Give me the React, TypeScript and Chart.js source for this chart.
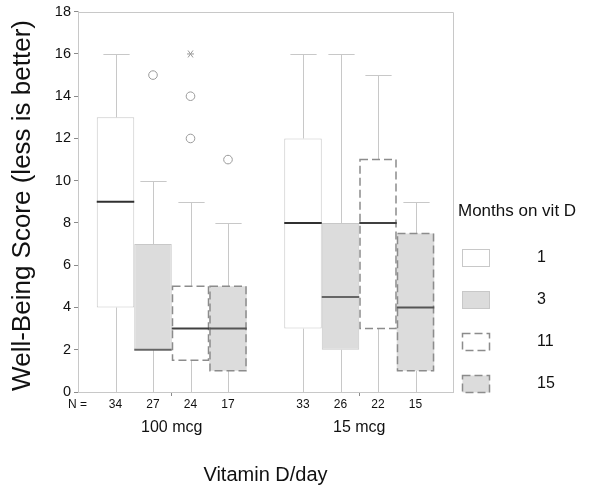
import React, { useEffect, useRef } from 'react';
import { Chart, registerables } from 'chart.js';

Chart.register(...registerables);

// ---- data ----
const groupLabels = ['100 mcg', '15 mcg'];
const monthLabels = ['1', '3', '11', '15'];
// indexed [month][group]
const whiskerLow = [[0, 0], [0, 0], [0, 0], [0, 0]];
const q1Values = [[4, 3], [2, 2], [1.5, 3], [1, 1]];
const medianValues = [[9, 8], [2, 4.5], [3, 8], [3, 4]];
const q3Values = [[13, 12], [7, 8], [5, 11], [5, 7.5]];
const whiskerHigh = [[16, 16], [10, 16], [9, 15], [8, 9]];
const outlierCircles = [[[], []], [[15], []], [[14, 12], []], [[11], []]];
const extremeStars = [[[], []], [[], []], [[16], []], [[], []]];
const sampleSizes = [[34, 33], [27, 26], [24, 22], [17, 15]];
const yTicksMin = 0;
const yTicksMax = 18;
const yTickStep = 2;

const FONT = '"Liberation Sans", Arial, sans-serif';
const fills = ['#ffffff', '#dcdcdc', '#ffffff', '#dcdcdc'];
const dashed = [false, false, true, true];
const medianColors = ['#303030', '#666666', '#404040', '#555555'];
const lightLine = '#c8c8c8';
const dashColor = '#8c8c8c';

const boxPlugin = {
  id: 'boxExtras',
  beforeDatasetsDraw(chart: any) {
    const { ctx, chartArea: a } = chart;
    const y = chart.scales.y;
    ctx.save();
    // frame (top & right)
    ctx.strokeStyle = lightLine;
    ctx.lineWidth = 1;
    ctx.beginPath();
    ctx.moveTo(a.left, Math.round(a.top) + 0.5);
    ctx.lineTo(Math.round(a.right) + 0.5, Math.round(a.top) + 0.5);
    ctx.lineTo(Math.round(a.right) + 0.5, a.bottom);
    ctx.stroke();
    // whiskers
    chart.data.datasets.forEach((_ds: any, di: number) => {
      const meta = chart.getDatasetMeta(di);
      meta.data.forEach((bar: any, gi: number) => {
        const { x, width } = bar.getProps(['x', 'width'], true);
        const cx = Math.round(x) + 0.5;
        const capHalf = width * 0.35;
        const pairs = [
          [q3Values[di][gi], whiskerHigh[di][gi]],
          [q1Values[di][gi], whiskerLow[di][gi]],
        ];
        ctx.strokeStyle = lightLine;
        ctx.lineWidth = 1;
        pairs.forEach(([from, to]) => {
          const p0 = y.getPixelForValue(from);
          const p1 = Math.round(y.getPixelForValue(to)) + 0.5;
          ctx.beginPath();
          ctx.moveTo(cx, p0);
          ctx.lineTo(cx, p1);
          ctx.moveTo(cx - capHalf, p1);
          ctx.lineTo(cx + capHalf, p1);
          ctx.stroke();
        });
      });
    });
    ctx.restore();
  },
  afterDatasetsDraw(chart: any) {
    const { ctx } = chart;
    const y = chart.scales.y;
    ctx.save();
    chart.data.datasets.forEach((_ds: any, di: number) => {
      const meta = chart.getDatasetMeta(di);
      meta.data.forEach((bar: any, gi: number) => {
        const { x, width } = bar.getProps(['x', 'width'], true);
        const left = x - width / 2;
        const right = x + width / 2;
        const top = y.getPixelForValue(q3Values[di][gi]);
        const bottom = y.getPixelForValue(q1Values[di][gi]);
        if (dashed[di]) {
          ctx.strokeStyle = dashColor;
          ctx.lineWidth = 1.5;
          ctx.setLineDash([8, 4]);
          ctx.strokeRect(left + 0.75, top, width - 1.5, bottom - top);
          ctx.setLineDash([]);
        }
        // median
        const m = y.getPixelForValue(medianValues[di][gi]);
        ctx.strokeStyle = medianColors[di];
        ctx.lineWidth = 2;
        ctx.beginPath();
        ctx.moveTo(left, m);
        ctx.lineTo(right, m);
        ctx.stroke();
        // outliers
        ctx.strokeStyle = '#9a9a9a';
        ctx.lineWidth = 1;
        outlierCircles[di][gi].forEach((v: number) => {
          const py = y.getPixelForValue(v);
          ctx.beginPath();
          ctx.arc(x, py, 4.3, 0, Math.PI * 2);
          ctx.stroke();
        });
        extremeStars[di][gi].forEach((v: number) => {
          const py = y.getPixelForValue(v);
          ctx.beginPath();
          ctx.moveTo(x - 3.5, py);
          ctx.lineTo(x + 3.5, py);
          ctx.moveTo(x - 2.5, py - 3.5);
          ctx.lineTo(x + 2.5, py + 3.5);
          ctx.moveTo(x + 2.5, py - 3.5);
          ctx.lineTo(x - 2.5, py + 3.5);
          ctx.stroke();
        });
      });
    });
    ctx.restore();
  },
  afterDraw(chart: any) {
    const { ctx, chartArea: a } = chart;
    ctx.save();
    // N labels
    const nY = a.bottom + 13;
    ctx.fillStyle = '#111';
    ctx.font = `12px ${FONT}`;
    ctx.textBaseline = 'middle';
    ctx.textAlign = 'left';
    ctx.fillText('N =', a.left - 10, nY);
    ctx.textAlign = 'center';
    chart.data.datasets.forEach((_ds: any, di: number) => {
      const meta = chart.getDatasetMeta(di);
      meta.data.forEach((bar: any, gi: number) => {
        const { x } = bar.getProps(['x'], true);
        ctx.fillText(String(sampleSizes[di][gi]), x, nY);
      });
    });
    // legend
    const lx = a.right + 5;
    ctx.textAlign = 'left';
    ctx.font = `17px ${FONT}`;
    ctx.fillStyle = '#111';
    ctx.fillText('Months on vit D', lx, 211);
    monthLabels.forEach((lab, i) => {
      const cy = 258 + i * 42;
      const sx = lx + 4.5;
      const sw = 27;
      const sh = 17;
      ctx.fillStyle = fills[i];
      ctx.fillRect(sx, cy - sh / 2, sw, sh);
      if (dashed[i]) {
        ctx.strokeStyle = dashColor;
        ctx.lineWidth = 1.5;
        ctx.setLineDash([8, 4]);
      } else {
        ctx.strokeStyle = lightLine;
        ctx.lineWidth = 1;
        ctx.setLineDash([]);
      }
      ctx.strokeRect(sx, cy - sh / 2, sw, sh);
      ctx.setLineDash([]);
      ctx.fillStyle = '#111';
      ctx.font = `16px ${FONT}`;
      ctx.fillText(lab, lx + 79, cy);
    });
    ctx.restore();
  },
};

export default function App() {
  const ref = useRef<HTMLCanvasElement | null>(null);
  useEffect(() => {
    if (!ref.current) return;
    Chart.defaults.font.family = FONT;
    const datasets = monthLabels.map((lab, di) => ({
      label: lab,
      data: groupLabels.map((_g, gi) => [q1Values[di][gi], q3Values[di][gi]]),
      backgroundColor: fills[di],
      borderColor: dashed[di] ? 'rgba(0,0,0,0)' : lightLine,
      borderWidth: dashed[di] ? 0 : 1,
      borderSkipped: false,
      categoryPercentage: 0.8,
      barPercentage: 1.0,
    }));
    const chart = new Chart(ref.current, {
      type: 'bar',
      data: { labels: groupLabels, datasets },
      options: {
        animation: false,
        responsive: false,
        maintainAspectRatio: false,
        layout: { padding: { left: 0, top: 9, right: 147, bottom: 0 } },
        plugins: { legend: { display: false }, tooltip: { enabled: false } },
        scales: {
          x: {
            type: 'category',
            offset: true,
            grid: { drawOnChartArea: false, offset: false, tickLength: 4, color: '#8a8a8a' },
            border: { color: lightLine },
            ticks: { font: { size: 16, family: FONT }, color: '#111', padding: 22 },
            title: {
              display: true,
              text: 'Vitamin D/day',
              font: { size: 20, family: FONT, lineHeight: 1 },
              color: '#111',
              padding: { top: 0, bottom: 0 },
            },
            afterFit: (s: any) => { s.height = 93; },
          },
          y: {
            min: yTicksMin,
            max: yTicksMax,
            ticks: { stepSize: yTickStep, font: { size: 14.5, family: FONT }, color: '#111', padding: 3 },
            grid: { drawOnChartArea: false, tickLength: 4, color: '#8a8a8a' },
            border: { color: lightLine },
            title: {
              display: true,
              text: 'Well-Being Score (less is better) ',
              font: { size: 26, family: FONT, lineHeight: 1.2 },
              color: '#111',
              padding: { top: 7.5, bottom: 0 },
            },
            afterFit: (s: any) => { s.width = 78; },
          },
        },
      },
      plugins: [boxPlugin],
    } as any);
    return () => chart.destroy();
  }, []);
  return (
    <div style={{ position: 'absolute', left: 0, top: 0, width: 600, height: 485, background: '#fff' }}>
      <canvas ref={ref} width={600} height={485} style={{ display: 'block' }} />
    </div>
  );
}
